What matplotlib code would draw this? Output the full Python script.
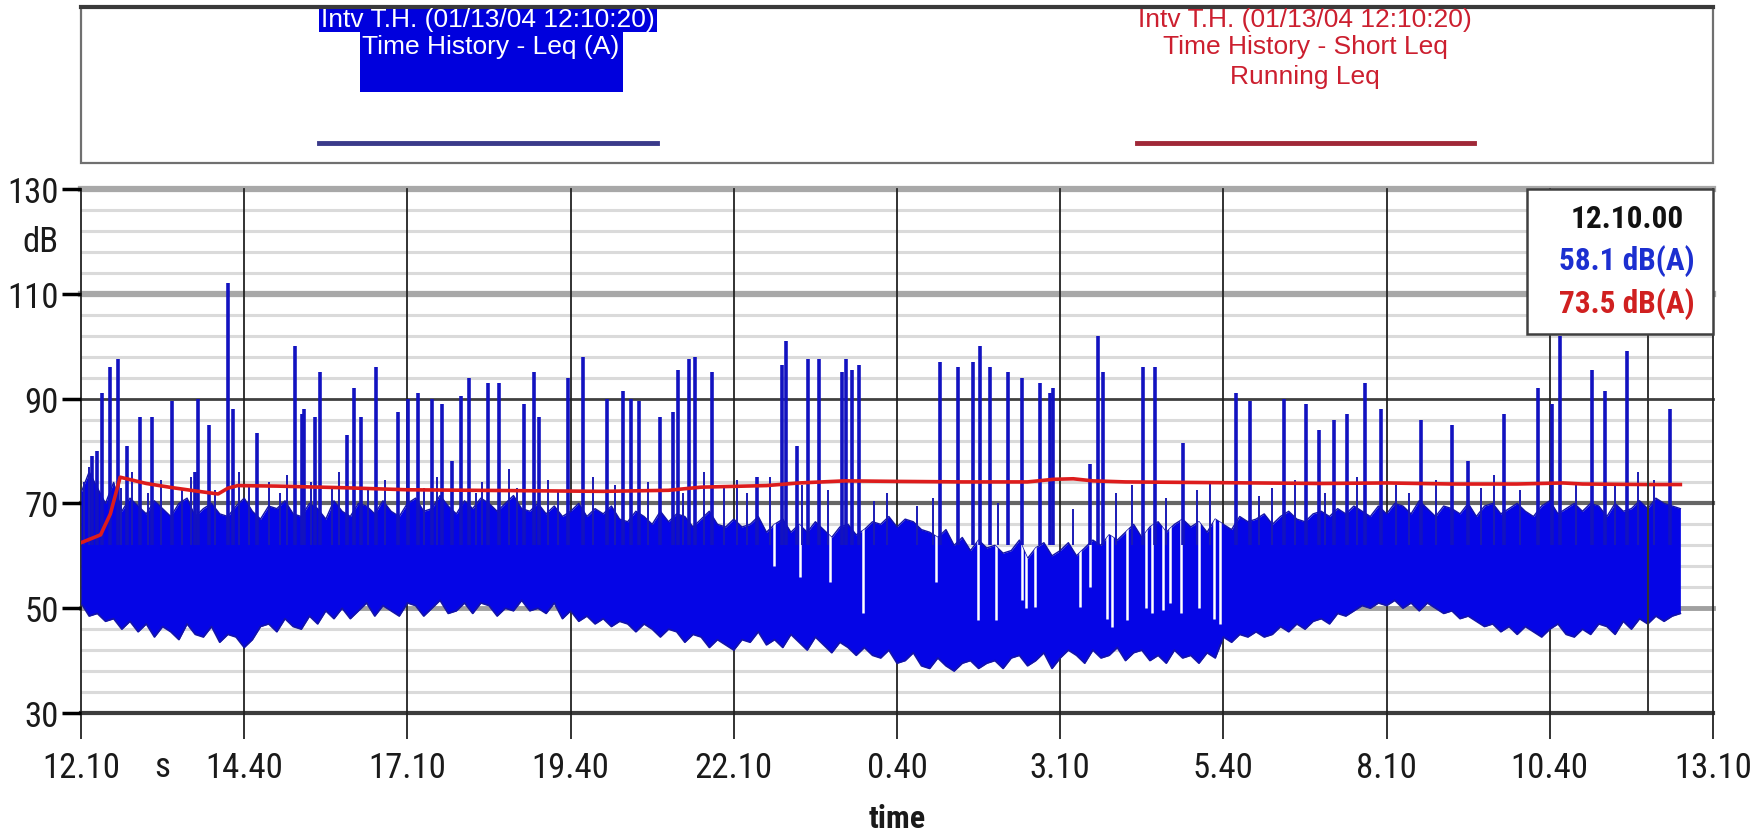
import numpy as np
import matplotlib
matplotlib.use('Agg')
import matplotlib.pyplot as plt
from matplotlib.patches import Rectangle
from matplotlib import font_manager as fm
from matplotlib.font_manager import FontProperties

# ---------------- data ----------------
x_tick_pos = [0, 2.5, 5, 7.5, 10, 12.5, 15, 17.5, 20, 22.5, 25]
x_tick_labels = ['12.10', '14.40', '17.10', '19.40', '22.10', '0.40',
                 '3.10', '5.40', '8.10', '10.40', '13.10']
y_major = [30, 50, 70, 90, 110, 130]
y_minor = [34, 38, 42, 46, 54, 58, 62, 66, 74, 78, 82, 86,
           94, 98, 102, 106, 114, 118, 122, 126]

# dense Leq(A) band, sampled every 1/8 hour (rows = 1 hour)
env_step = 0.125
env_lo = [
    51, 48.5, 49, 47.5, 48, 46, 47.5, 45.5,
    47, 44.5, 46.5, 45.5, 44, 47, 45, 44.5,
    46.5, 43.5, 45, 44.5, 42.5, 44, 46.5, 47,
    45.5, 48, 46.5, 46, 48.5, 47, 49.5, 48,
    50, 48, 49.5, 51, 48.5, 50.5, 49.5, 48.5,
    51, 50.5, 48.5, 50, 51.5, 49, 49.5, 51,
    49, 51, 50.5, 48.5, 50, 49.5, 51.5, 49.5,
    50, 49, 51, 48, 49.5, 47.5, 48.5, 47,
    48, 46.5, 47.5, 47, 45.5, 47, 46, 44.5,
    46, 45.5, 43.5, 45, 44.5, 42.5, 44, 43,
    42, 44, 43.5, 45.5, 43, 44, 42.5, 45,
    43.5, 42, 44.5, 43, 41.5, 43.5, 42.5, 41,
    42.5, 41, 40.5, 42, 39.5, 40, 41.5, 39,
    38.5, 40.5, 39, 38, 39.5, 40, 38.5, 39.5,
    40, 38.5, 40.5, 41, 39, 40, 41.5, 38.5,
    40.5, 42, 41, 39.5, 42, 40.5, 41, 42.5,
    40, 41.5, 42, 40, 41, 39.5, 42, 40.5,
    41, 39.5, 41.5, 40.5, 44.5, 43.5, 45, 44.5,
    45.5, 44.5, 45, 46.5, 45.5, 47, 46, 47.5,
    48, 47, 49, 48.5, 49.5, 50.5, 50, 51,
    50.5, 51.5, 50, 51, 49.5, 51, 50, 49,
    49.5, 48, 48.5, 47.5, 46.5, 47, 45.5, 46.5,
    45, 46.5, 45.5, 44.5, 46, 47, 45, 44.5,
    46, 45, 47, 46.5, 45, 47.5, 46, 48,
    47, 48.5, 47.5, 48.5, 49,
]
env_hi = [
    72, 76, 73, 70, 74, 68.5, 71, 69.5,
    68, 70.5, 69, 67.5, 70, 71, 67.5, 69,
    70, 68, 67.5, 69.5, 71, 68.5, 67, 69.5,
    69, 70.5, 68, 67.5, 70, 69, 67, 70.5,
    68.5, 67.5, 70, 69.5, 68, 70.5, 68.5, 67.5,
    70, 71, 68.5, 69, 71.5, 69.5, 68, 70.5,
    69, 71, 70, 68.5, 70, 71.5, 69, 68.5,
    70, 68, 69.5, 67.5, 68.5, 70, 67.5, 69,
    68, 69.5, 67, 66.5, 68.5, 67.5, 66, 68.5,
    66.5, 68, 67.5, 65.5, 67, 68.5, 66, 65.5,
    67, 65.5, 66, 67.5, 64.5, 66, 67, 64.5,
    66, 64.5, 66.5, 65, 63.5, 65.5, 66, 64,
    65, 66.5, 66, 67.5, 65.5, 67, 66.5, 65,
    64.5, 63.5, 65, 62, 63.5, 61, 63, 61.5,
    62, 60.5, 61, 63, 59.5, 61.5, 62.5, 60,
    61, 62.5, 60, 61.5, 63, 62, 64, 63,
    64.5, 66, 63.5, 65.5, 66.5, 64.5, 66, 67,
    65.5, 66.5, 64.5, 67, 66, 65, 67.5, 66.5,
    67, 68, 66, 67.5, 68.5, 67, 66.5, 68,
    68.5, 67.5, 69, 68, 69.5, 68.5, 67.5, 69.5,
    68, 70, 69.5, 68, 70.5, 69, 67.5, 69.5,
    69, 68, 70, 67.5, 69.5, 70, 68, 69,
    70, 68.5, 67.5, 69.5, 70.5, 68, 69, 70,
    68.5, 70, 69.5, 67.5, 70, 68.5, 69, 70.5,
    69, 71, 70, 69.5, 69,
]

# brief drop-outs inside the band: time (h) and level the signal fell to (dB)
gap_t = [10.62, 11.02, 11.48, 11.98, 13.10, 13.74, 14.02, 14.42, 14.47, 14.62,
         15.30, 15.45, 15.72, 15.80, 16.02, 16.32, 16.40, 16.58, 16.68, 16.85,
         17.12, 17.35, 17.45]
gap_db = [58, 56, 55, 49, 55, 47.7, 47.7, 51.6, 50, 50.3,
          50.3, 54, 48, 46.4, 47.7, 50, 49, 49.7, 51, 49,
          50, 48, 47]

# isolated Leq(A) peaks: time (h after 12:10) and level (dB)
spike_t = [0.17, 0.24, 0.32, 0.44, 0.57, 0.70, 0.90, 1.09, 1.39, 1.75,
           1.79, 1.96, 2.25, 2.33, 2.70, 3.28, 3.38, 3.42, 3.58, 3.66,
           4.07, 4.18, 4.29, 4.52, 4.86, 5.01, 5.16, 5.38, 5.53, 5.68,
           5.82, 5.94, 6.24, 6.40, 6.79, 6.94, 7.02, 7.46, 7.69, 8.06,
           8.30, 8.43, 8.55, 8.87, 9.07, 9.15, 9.31, 9.41, 9.67, 10.36,
           10.74, 10.80, 10.97, 11.14, 11.31, 11.66, 11.72, 11.81, 11.92, 13.16,
           13.43, 13.66, 13.77, 13.92, 14.20, 14.41, 14.69, 14.84, 14.89, 15.46,
           15.58, 15.66, 16.27, 16.45, 16.88, 17.69, 17.90, 18.43, 18.76, 18.97,
           19.20, 19.40, 19.67, 19.91, 20.52, 21.00, 21.25, 21.80, 22.32, 22.53,
           22.66, 23.15, 23.35, 23.68, 24.34]
spike_db = [79, 80, 91, 96, 97.5, 81, 86.5, 86.5, 89.5, 76,
            90, 85, 112, 88, 83.5, 100, 87, 88, 86.5, 95,
            83, 92, 86.5, 96, 87.5, 90, 91, 90, 89, 78,
            90.5, 94, 93, 93, 89, 95, 86.5, 94, 98, 90,
            91.5, 90, 89.5, 86.5, 87.5, 95.5, 97.5, 98, 95, 75,
            96.5, 101, 81, 97.5, 97.5, 95, 97.5, 95.5, 96.5, 97,
            96, 97, 100, 96, 95, 94, 93, 91, 92, 77.5,
            102, 95, 96, 96, 81.5, 91, 89.5, 90, 89, 84,
            86, 87, 93, 88, 86, 85, 78, 87, 92, 89,
            102, 95.5, 91.5, 99, 88]

# smaller peaks just above the dense band
minor_t = [0.05, 0.12, 0.62, 0.78, 1.02, 1.22, 1.55, 1.68, 2.05, 2.42,
           2.58, 2.88, 3.05, 3.15, 3.52, 3.85, 3.95, 4.40, 4.65, 5.25,
           5.45, 6.05, 6.15, 6.55, 6.68, 7.15, 7.30, 7.85, 8.18, 8.68,
           9.22, 9.55, 9.85, 10.05, 10.20, 10.55, 11.05, 11.45, 12.15, 12.35,
           12.80, 13.05, 14.05, 15.20, 15.85, 16.10, 16.62, 17.10, 17.30, 18.05,
           18.25, 18.60, 19.05, 19.55, 20.15, 20.35, 20.75, 21.45, 21.65, 22.05,
           22.90, 23.50, 23.85, 24.10]
minor_db = [74, 77, 73, 76, 72, 74.5, 73, 75, 72.5, 76,
            73.5, 74, 72, 75.5, 74, 73, 76, 72.5, 74.5, 73,
            75, 72, 74, 76.5, 73, 74.5, 72.5, 75, 73.5, 74,
            72, 76, 73, 74.5, 72, 75, 73.5, 72.5, 70.5, 72,
            69.5, 71, 70, 69, 72, 73.5, 71, 72.5, 74, 71.5,
            73, 74.5, 72, 75, 73.5, 72, 74.5, 73, 75.5, 72.5,
            74, 73.5, 76, 74.5]

# running Leq (red)
red_t = [0, 0.1, 0.3, 0.45, 0.6, 0.8, 1.0, 1.4, 1.8, 2.1, 2.25, 2.4, 3.0,
         4.0, 5.0, 6.0, 7.0, 8.0, 9.0, 9.5, 10.5, 11.0, 11.7, 12.5, 13.5,
         14.5, 14.9, 15.2, 15.5, 16.0, 17.0, 18.0, 19.0, 20.0, 21.0, 22.0,
         22.7, 23.0, 24.0, 24.5]
red_db = [62.5, 63, 64, 68, 75, 74.4, 73.8, 73.0, 72.3, 71.8, 72.9, 73.4, 73.3,
          73.0, 72.6, 72.5, 72.4, 72.3, 72.5, 73.1, 73.4, 73.9, 74.3, 74.2, 74.1,
          74.1, 74.6, 74.7, 74.3, 74.1, 74.0, 73.9, 73.8, 73.9, 73.7, 73.7,
          73.9, 73.7, 73.6, 73.6]

cursor_t = 24.0
cursor_label = '12.10.00'
cursor_leq = 58.1
cursor_running = 73.5

legend_left = ['Intv T.H. (01/13/04 12:10:20)', 'Time History - Leq (A)']
legend_right = ['Intv T.H. (01/13/04 12:10:20)', 'Time History - Short Leq', 'Running Leq']

# ---------------- fonts ----------------
ttf = fm.fontManager.ttflist
names = {f.name for f in ttf}
narrow_family, narrow_stretch = None, 'normal'
for cand in ['Liberation Sans Narrow', 'Arial Narrow', 'Roboto Condensed',
             'Open Sans Condensed', 'Noto Sans Condensed']:
    if cand in names:
        narrow_family = cand
        break
if narrow_family is None:
    for fam in ['Liberation Sans', 'DejaVu Sans', 'Noto Sans', 'Open Sans', 'Roboto']:
        if any(f.name == fam and f.stretch in ('condensed', 'semi-condensed', 500, 600)
               for f in ttf):
            narrow_family, narrow_stretch = fam, 'condensed'
            break
HAVE_NARROW = narrow_family is not None
if not HAVE_NARROW:
    narrow_family = 'Liberation Sans'


def nfp(size, weight='normal'):
    return FontProperties(family=[narrow_family, 'DejaVu Sans'], stretch=narrow_stretch,
                          size=size, weight=weight)


REG = ['Liberation Sans', 'DejaVu Sans']
tick_size_x = 25 if HAVE_NARROW else 23
tick_size_y = 25 if HAVE_NARROW else 22.5

# ---------------- figure ----------------
W, H, DPI = 1765, 837, 100
fig = plt.figure(figsize=(W / DPI, H / DPI), dpi=DPI)
fig.patch.set_facecolor('white')

L, R, T, B = 81, 1713, 190, 714
ax = fig.add_axes([L / W, 1 - B / H, (R - L) / W, (B - T) / H])
ax.set_xlim(0, 25)
ax.set_ylim(30, 130)
for s in ax.spines.values():
    s.set_visible(False)

# horizontal grid
for v in y_minor:
    ax.axhline(v, color='#dadada', lw=2.2, zorder=0.5)
major_style = {30: ('#3c3c3c', 3.0), 50: ('#a0a0a0', 3.5), 70: ('#666666', 3.0),
               90: ('#404040', 2.0), 110: ('#a8a8a8', 4.5), 130: ('#a8a8a8', 4.5)}
for v in y_major:
    c, w = major_style[v]
    ax.axhline(v, color=c, lw=w, zorder=0.6, clip_on=False)

# ticks
ax.set_xticks(x_tick_pos)
ax.set_xticklabels(x_tick_labels)
ax.tick_params(axis='x', length=18.7, width=1.3, color='#222222', pad=9,
               labelcolor='#1a1a1a', direction='out')
for lbl in ax.get_xticklabels():
    lbl.set_fontproperties(nfp(tick_size_x))
for v in x_tick_pos:
    ax.axvline(v, color='#222222', lw=1.3, zorder=0.7, clip_on=False)
ax.set_yticks(y_major)
ax.set_yticklabels([str(v) for v in y_major])
ax.tick_params(axis='y', length=14, width=2.5, pad=2,
               labelcolor='#1a1a1a', direction='out')
for lbl in ax.get_yticklabels():
    lbl.set_fontproperties(nfp(tick_size_y))
for tk, v in zip(ax.yaxis.get_major_ticks(), y_major):
    tk.tick1line.set_color(major_style[v][0])

ax.annotate('dB', xy=(0, 120), xycoords=('axes fraction', 'data'),
            xytext=(-22, 0), textcoords='offset pixels', ha='right', va='center',
            fontproperties=nfp(tick_size_y), color='#1a1a1a')
ax.annotate('s', xy=(1.25, 0), xycoords=('data', 'axes fraction'),
            xytext=(0, -63), textcoords='offset pixels', ha='center', va='baseline',
            fontproperties=nfp(tick_size_x), color='#1a1a1a')
ax.set_xlabel('time', fontproperties=nfp(23, 'bold'), color='#1a1a1a', labelpad=13.5)

# data
env_t = np.arange(len(env_lo)) * env_step
band = ax.fill_between(env_t, env_lo, env_hi, color='#0505e6', lw=0, zorder=2)
ax.plot(env_t, env_lo, color='#1414a8', lw=1.2, zorder=2.1)
ax.plot(env_t, env_hi, color='#1414a8', lw=1.0, zorder=2.1)
gaps = ax.vlines(gap_t, gap_db, 80, color='white', lw=1.8, zorder=2.12)
gaps.set_clip_path(band.get_paths()[0], ax.transData)
ax.vlines(minor_t, 62, minor_db, color='#1a1ab4', lw=1.4, zorder=2.15)
ax.vlines(spike_t, 62, spike_db, color='#1212c0', lw=2.6, zorder=2.2)
ax.plot(red_t, red_db, color='#dd1c1c', lw=2.6, zorder=3)

# cursor
box_bottom_db = 102.3
ax.vlines([cursor_t], 30, box_bottom_db, color='#333333', lw=1.4, zorder=4)

# ---------------- overlay (header + value box) ----------------
ov = fig.add_axes([0, 0, 1, 1], zorder=5)
ov.set_xlim(0, W)
ov.set_ylim(H, 0)
ov.axis('off')
ov.patch.set_visible(False)

ov.add_patch(Rectangle((81, 8), 1632, 156, fc='white', ec='#707070', lw=1.6))
ov.plot([81, 1713], [8, 8], color='#3a3a3a', lw=3)

ov.add_patch(Rectangle((319, 7), 338, 26, fc='#0000dd', ec='none'))
ov.add_patch(Rectangle((360, 33), 263, 60, fc='#0000dd', ec='none'))
ov.text(488, 20, legend_left[0], color='white', fontsize=19, family=REG,
        ha='center', va='center')
ov.text(491, 47, legend_left[1], color='white', fontsize=19, family=REG,
        ha='center', va='center')
ov.plot([319, 657], [144, 144], color='#3a3a8a', lw=3.5)

for txt, yy in zip(legend_right, [20, 47, 77]):
    ov.text(1305, yy, txt, color='#cc1f2f', fontsize=19, family=REG,
            ha='center', va='center')
ov.plot([1137, 1474], [144, 144], color='#a02838', lw=3.5)

ov.add_patch(Rectangle((1527, 190), 186, 145, fc='white', ec='#404040', lw=1.8))
ov.text(1627, 219, cursor_label, color='#111111', fontproperties=nfp(22.5, 'bold'),
        ha='center', va='center')
ov.text(1627, 261, f'{cursor_leq:.1f} dB(A)', color='#1c2fd0',
        fontproperties=nfp(22.5, 'bold'), ha='center', va='center')
ov.text(1627, 304, f'{cursor_running:.1f} dB(A)', color='#d02020',
        fontproperties=nfp(22.5, 'bold'), ha='center', va='center')

fig.savefig('out.png', dpi=DPI, facecolor='white')
